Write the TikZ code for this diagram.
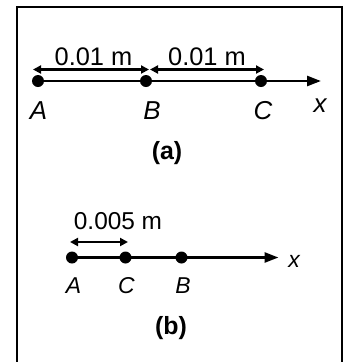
\documentclass[tikz,border=0pt]{standalone}
\usepackage{fontspec}
\setmainfont{Liberation Sans}
\usetikzlibrary{arrows.meta}
\begin{document}
\begin{tikzpicture}[x=1bp,y=-1bp,
  dot/.style={circle,fill=black,inner sep=0pt,minimum size=12bp},
  lbl/.style={inner sep=0pt,font=\fontsize{26}{26}\selectfont\itshape},
  lblb/.style={inner sep=0pt,font=\fontsize{23}{23}\selectfont\itshape},
  dimtxt/.style={inner sep=0pt,font=\fontsize{25.5}{25.5}\selectfont},
  dimtxtb/.style={inner sep=0pt,font=\fontsize{24.5}{24.5}\selectfont},
  captxt/.style={inner sep=0pt,font=\fontsize{25}{25}\selectfont\bfseries},
  axis/.style={line width=2.6bp,-{Triangle[length=14bp,width=10bp]}},
  dimarr/.style={line width=2.4bp,{Triangle[length=8bp,width=8bp]}-{Triangle[length=8bp,width=8bp]}}]
\useasboundingbox (0,0) rectangle (344,362);
\fill[white] (0,0) rectangle (344,362);
\draw[line width=2.2bp] (17,363) -- (17,7) -- (341.7,7) -- (341.7,363);
% panel (a)
\node[dot] (A1) at (38,81) {};
\node[dot] (B1) at (146,81) {};
\node[dot] (C1) at (261,81) {};
\coordinate (E1) at (321,81);
\draw[axis] (A1.center) -- (E1);
\coordinate (d1) at (33,69.5);
\coordinate (d2) at (149,69.5);
\coordinate (d3) at (150,69.5);
\coordinate (d4) at (264,69.5);
\draw[dimarr] (d1) -- (d2);
\draw[dimarr] (d3) -- (d4);
\node[dimtxt] (t1) at (93.5,57) {0.01 m};
\node[dimtxt] (t2) at (207,57) {0.01 m};
\node[lbl] (lA1) at (38.5,110.5) {A};
\node[lbl] (lB1) at (152,110.5) {B};
\node[lbl] (lC1) at (263,110.5) {C};
\node[lbl] (lx1) at (320,106) {x};
\node[captxt] (capa) at (167,153) {(a)};
% panel (b)
\node[dot] (A2) at (72,257.5) {};
\node[dot] (C2) at (125.5,257.5) {};
\node[dot] (B2) at (181.5,257.5) {};
\coordinate (E2) at (278.5,257.5);
\draw[axis] (A2.center) -- (E2);
\coordinate (e1) at (70,242);
\coordinate (e2) at (128,242);
\draw[dimarr] (e1) -- (e2);
\node[dimtxtb] (t3) at (118,221) {0.005 m};
\node[lblb] (lA2) at (73.5,286) {A};
\node[lblb] (lC2) at (126.5,286) {C};
\node[lblb] (lB2) at (183,286) {B};
\node[lblb] (lx2) at (294,261) {x};
\node[captxt] (capb) at (171,328) {(b)};
\end{tikzpicture}
\end{document}
